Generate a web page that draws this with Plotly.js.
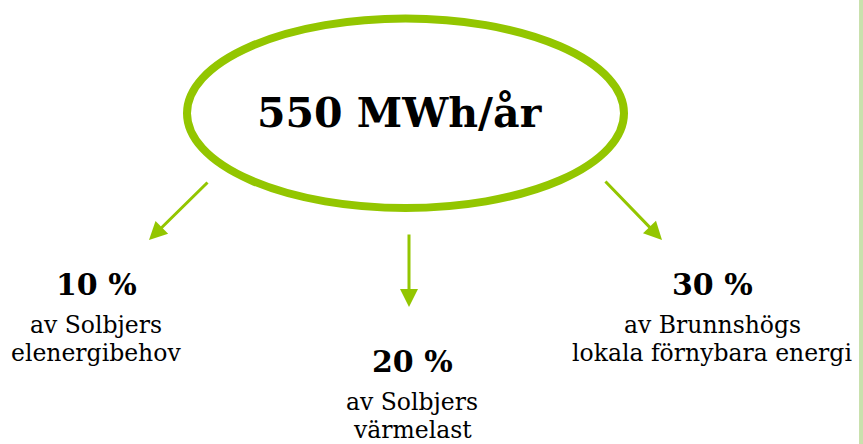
<!DOCTYPE html>
<html>
<head>
<meta charset="utf-8">
<script src="https://cdn.plot.ly/plotly-3.0.1.min.js"></script>
<style>html,body{margin:0;padding:0;background:#fff;}#chart{width:863px;height:444px;}</style>
</head>
<body>
<div id="chart"></div>
<script>
// ---- data ----
const totalLabel = '550 MWh/år';
const sharePercent = [10, 20, 30];
const targetLine1 = ['av Solbjers', 'av Solbjers', 'av Brunnshögs'];
const targetLine2 = ['elenergibehov', 'värmelast', 'lokala förnybara energi'];

// ---- layout (pixel-like coordinates) ----
const green = '#93c600';
const serif = 'DejaVu Serif, Liberation Serif, serif';
const blockX = [96, 412, 712];
const blockTop = [296, 373, 296];      // baseline of bold line
const arrowTail = [[209, 181], [409, 233], [604, 180]];
const arrowTip = [[149, 240], [409, 307], [662, 240]];

const annotations = [];
annotations.push({
  x: 400, y: 113, xref: 'x', yref: 'y', text: '<b>' + totalLabel + '</b>',
  showarrow: false, xanchor: 'center', yanchor: 'middle',
  font: {family: serif, size: 41, color: '#000'}
});
for (let i = 0; i < sharePercent.length; i++) {
  annotations.push({
    x: blockX[i], y: blockTop[i] - 12, xref: 'x', yref: 'y',
    text: '<b>' + sharePercent[i] + ' %</b>', showarrow: false,
    xanchor: 'center', yanchor: 'middle',
    font: {family: serif, size: 30, color: '#000'}
  });
  annotations.push({
    x: blockX[i], y: blockTop[i] + 37 - 8, xref: 'x', yref: 'y',
    text: targetLine1[i], showarrow: false, xanchor: 'center', yanchor: 'middle',
    font: {family: serif, size: 23.5, color: '#000'}
  });
  annotations.push({
    x: blockX[i], y: blockTop[i] + 65 - 8, xref: 'x', yref: 'y',
    text: targetLine2[i], showarrow: false, xanchor: 'center', yanchor: 'middle',
    font: {family: serif, size: 23.5, color: '#000'}
  });
  annotations.push({
    x: arrowTip[i][0], y: arrowTip[i][1], ax: arrowTail[i][0], ay: arrowTail[i][1],
    xref: 'x', yref: 'y', axref: 'x', ayref: 'y', text: '', showarrow: true,
    arrowhead: 2, arrowsize: 1.2, arrowwidth: 3, arrowcolor: green, standoff: 0
  });
}

const shapes = [
  {type: 'circle', xref: 'x', yref: 'y', x0: 187, x1: 624, y0: 18.5, y1: 208,
   line: {color: green, width: 8}, fillcolor: 'rgba(0,0,0,0)'},
  {type: 'rect', xref: 'x', yref: 'y', x0: 859, x1: 864, y0: -1, y1: 445,
   line: {width: 0}, fillcolor: '#c9e1ad'}
];

const layout = {
  width: 863, height: 444,
  margin: {l: 0, r: 0, t: 0, b: 0, pad: 0},
  paper_bgcolor: '#ffffff', plot_bgcolor: '#ffffff',
  showlegend: false,
  xaxis: {range: [0, 863], visible: false, fixedrange: true},
  yaxis: {range: [444, 0], visible: false, fixedrange: true},
  annotations: annotations,
  shapes: shapes
};

Plotly.newPlot('chart', [], layout, {displayModeBar: false, staticPlot: true});
</script>
</body>
</html>
